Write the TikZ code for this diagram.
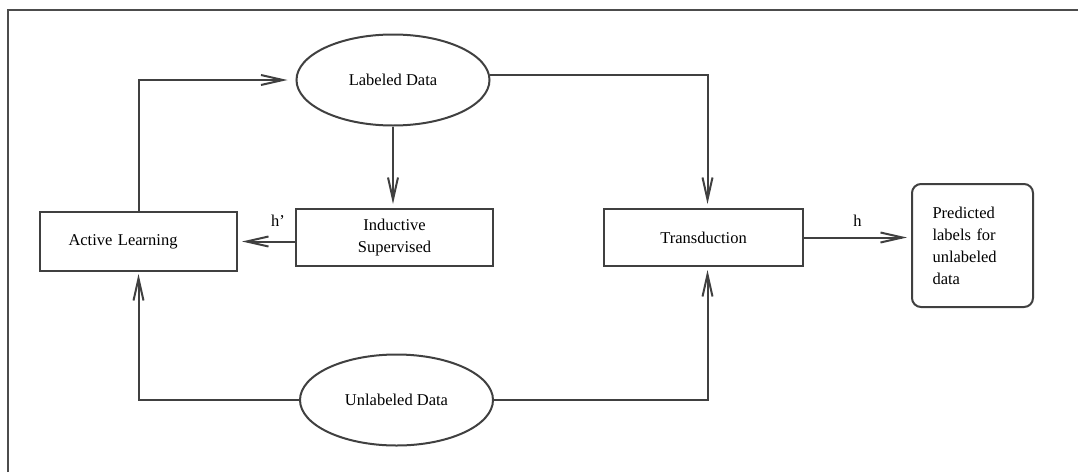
\documentclass[tikz,border=0pt]{standalone}
\usepackage{fontspec}
\setmainfont{Liberation Serif}
\usetikzlibrary{arrows.meta}
\usetikzlibrary{shapes.geometric}
\usetikzlibrary{calc,positioning}

\tikzset{
  datanode/.style={draw, ellipse, minimum width=193pt, minimum height=91pt, inner sep=0pt},
  procbox/.style={draw, rectangle, minimum width=197pt, minimum height=57pt, inner sep=0pt, align=center},
  outbox/.style={draw, rectangle, rounded corners=9pt, minimum width=121pt, minimum height=123pt,
    inner sep=0pt, text width=80pt, align=left},
  flow/.style={->, shorten >=4pt}
}

\begin{document}
\begin{tikzpicture}[x=1pt, y=-1pt, >={Straight Barb[length=22pt,width=10pt]},
    line width=2pt, color=black!75, text=black, font=\fontsize{16.5}{22}\selectfont]

    \useasboundingbox (0,0) rectangle (1078,472);
    % frame, cut off on the right and at the bottom
    \draw[line width=2.6pt, black!70] (8,472) |- (1078,10);

    \node[datanode] (labeled) at (393,80) {Labeled Data};
    \node[datanode] (unlabeled) at (396.5,400) {Unlabeled Data};
    \node[procbox, minimum height=59pt, text width=140pt, align=left] (active) at (138.5,241.5) {Active Learning};
    \node[procbox] (inductive) at (394.5,237.5) {Inductive\\Supervised};
    \node[procbox, minimum width=199pt] (trans) at (703.5,237.5) {Transduction};
    \node[outbox] (pred) at (972.5,245.5) {Predicted\\labels for\\unlabeled\\data};

    \draw[flow, shorten >=8pt] (active.north) |- (labeled.west);
    \draw[flow] (labeled.south) -- (labeled.south |- inductive.north);
    \draw[flow] (labeled.3) -| ([xshift=4pt]trans.north);
    \draw[flow] (inductive.west |- active.east) -- node[above=10.5pt, pos=0.3]{h'} (active.east);
    \draw[flow] (trans.east) -- node[above=6.5pt, pos=0.5]{h} (trans.east -| pred.west);
    \draw[flow, shorten >=2pt] (unlabeled.west) -| (active.south);
    \draw[flow, shorten >=3pt] (unlabeled.east) -| ([xshift=4pt]trans.south);

\end{tikzpicture}
\end{document}
